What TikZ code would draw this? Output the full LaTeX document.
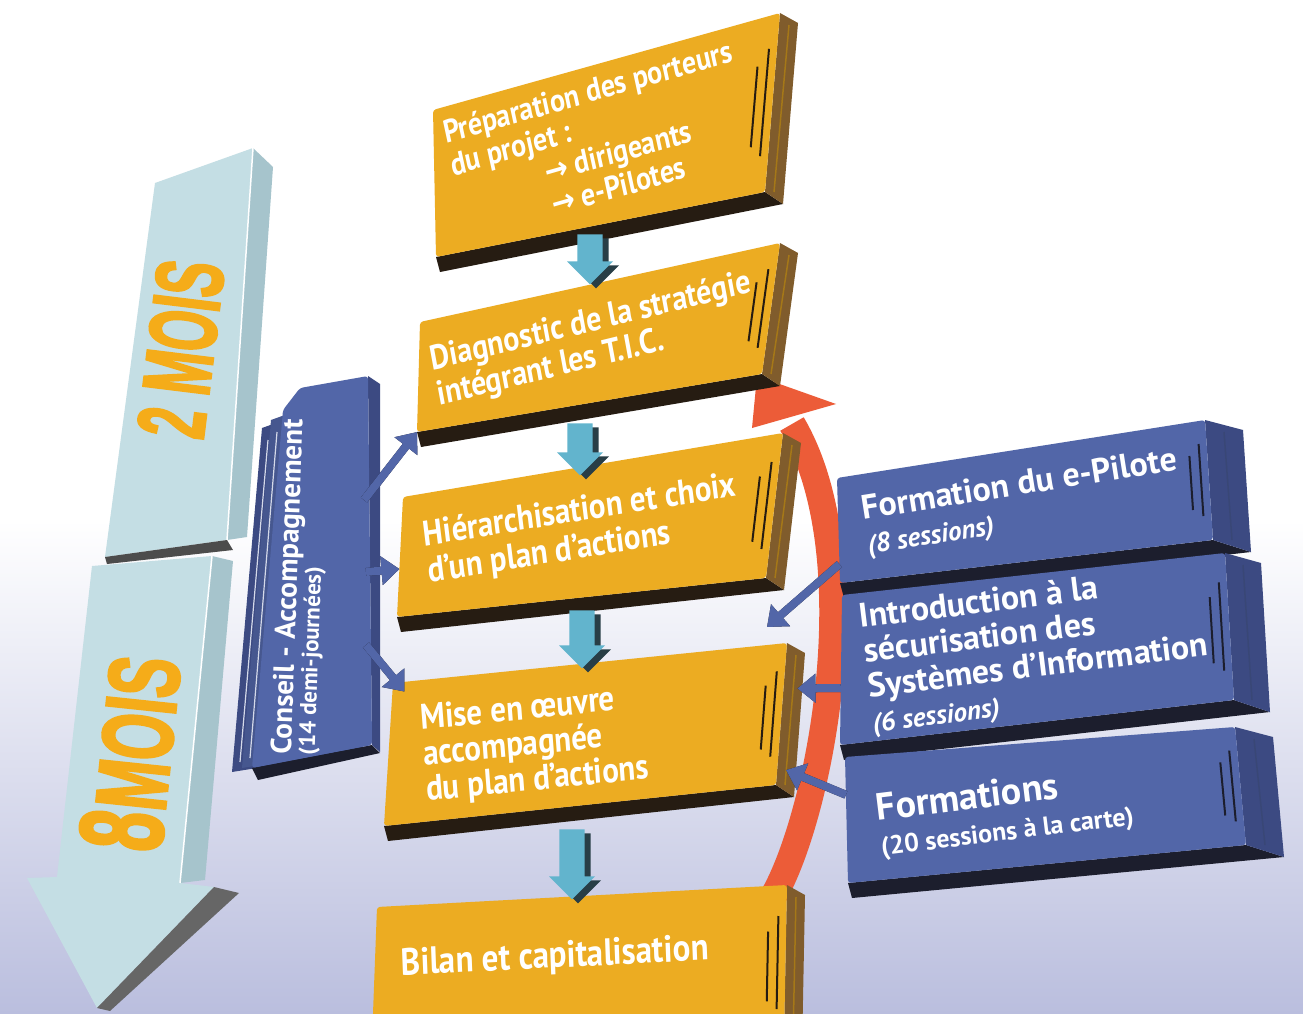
\documentclass[tikz,border=0pt]{standalone}
\usepackage{fontspec}
\setmainfont{PT Sans}
\newfontfamily\symfont{DejaVu Sans}
\newfontfamily\condfont[BoldFont={Liberation Sans Bold},BoldFeatures={FakeBold=3}]{Liberation Sans}
\usetikzlibrary{calc,shapes.arrows,arrows.meta}
\definecolor{ocre}{RGB}{236,172,34}
\definecolor{ocreside}{RGB}{128,92,44}
\definecolor{ocredark}{RGB}{38,28,18}
\definecolor{bleu}{RGB}{82,102,168}
\definecolor{bleuside}{RGB}{60,74,130}
\definecolor{bleudark}{RGB}{28,30,45}
\definecolor{ciel}{RGB}{196,222,228}
\definecolor{cielside}{RGB}{166,196,204}
\definecolor{turq}{RGB}{98,180,205}
\definecolor{turqdark}{RGB}{40,62,70}
\definecolor{rouge}{RGB}{236,92,56}
\definecolor{mois}{RGB}{245,172,25}
\definecolor{fond}{RGB}{186,190,222}
\newcommand\plaque[9]{%
  \coordinate (#1a) at (#2); \coordinate (#1b) at (#3);
  \coordinate (#1c) at (#4); \coordinate (#1d) at (#5);
  \fill[#8] (#1d) -- (#1c) -- ($(#1c)+(#9,12)$) -- ($(#1d)+(4,15)$) -- cycle;
  \fill[#7] (#1b) -- ($(#1b)+(#9,10)$) -- ($(#1c)+(#9,12)$) -- (#1c) -- cycle;
  \draw[#6!70!black, line width=1.5pt] ($(#1b)+({0.5*#9},12)$) -- ($(#1c)+({0.5*#9},0)$);
  \fill[#6, rounded corners=3pt] (#1a) -- (#1b) -- (#1c) -- (#1d) -- cycle;
  \draw[#8, line width=2pt] ($(#1b)!0.2!(#1c)+(-8,0)$) -- ($(#1b)!0.8!(#1c)+(-8,0)$);
  \draw[#8, line width=2pt] ($(#1b)!0.3!(#1c)+(-18,0)$) -- ($(#1b)!0.75!(#1c)+(-18,0)$);
}
\begin{document}
\begin{tikzpicture}[x=1pt,y=-1pt,
  otext/.style={text=white,align=left,inner sep=0pt,yscale=1.15},
  btext/.style={text=white,font=\bfseries\fontsize{34}{35}\selectfont,align=left,inner sep=0pt},
  tarrow/.style={single arrow,rotate=-90,fill=turq,inner xsep=0pt,inner ysep=12pt,minimum width=46pt,single arrow head extend=10pt},
  barrow/.style={draw=bleu,line width=8pt,-{Triangle[length=18pt,width=28pt]}},
  bshadow/.style={barrow,draw=bleudark,shift={(3,5)}},
  moistext/.style={text=mois,font=\condfont\bfseries,inner sep=0pt}]
\useasboundingbox (0,0) rectangle (1303,1014);
\fill[white] (0,0) rectangle (1303,520);
\shade[top color=white,bottom color=fond] (0,520) rectangle (1303,1014);

\fill[ciel] (155,183) -- (253,148) -- (227,540) -- (105,557) -- cycle;
\fill[cielside] (253,148) -- (273,167) -- (247,537) -- (227,540) -- cycle;
\draw[white, line width=1.5pt] (253,148) -- (227,540);
\fill[black!70] (105,557) -- (227,540) -- (233,550) -- (107,564) -- cycle;
\fill[ciel] (92,566) -- (212,556) -- (180,883) -- (214,887) -- (97,1008) -- (27,878) -- (57,877) -- cycle;
\fill[cielside] (212,556) -- (233,561) -- (205,880) -- (180,883) -- cycle;
\draw[white, line width=1.5pt] (212,556) -- (180,883);
\fill[black!60] (214,887) -- (239,893) -- (110,1011) -- (97,1008) -- cycle;
\node[moistext, rotate=83] (deux) at (181,349) {\fontsize{95}{95}\selectfont\scalebox{0.55}[1]{2 MOIS}};
\node[moistext, rotate=84] (huit) at (130,753) {\scalebox{0.6}[1]{\fontsize{118}{118}\selectfont 8\fontsize{100}{100}\selectfont\hspace{3pt}MOIS}};

\draw[rouge, line width=27pt] (768,905) .. controls (818,830) and (872,560) .. (792,424);
\fill[rouge] (757,376) -- (836,404) -- (752,428) -- cycle;

\fill[bleuside] (262,428) -- (352,396) -- (356,752) -- (232,772) -- cycle;
\draw[white!75!bleu, line width=1.2pt] (268,440) -- (240,762);
\fill[bleu!85!black] (271,420) -- (360,388) -- (363,748) -- (242,768) -- cycle;
\draw[white!75!bleu, line width=1.2pt] (277,432) -- (250,758);
\fill[bleudark] (252,768) -- (372,745) -- (380,753) -- (258,780) -- cycle;
\fill[bleuside] (368,376) -- (380,384) -- (380,752) -- (372,745) -- cycle;
\fill[bleu, rounded corners=3pt] (283,410) -- (300,388) -- (368,376) -- (372,745) -- (252,768) -- cycle;
\node[text=white, align=left, inner sep=0pt, rotate=88, anchor=north west, font=\bfseries] (conseil) at (270,754) {\fontsize{29}{30}\selectfont Conseil - Accompagnement\\\fontsize{23}{26}\selectfont(14 demi-journées)};
\coordinate (k1) at (364,500);
\coordinate (k2) at (366,572);
\coordinate (k3) at (366,645);

\plaque{prep}{433,110}{780,13}{765,192}{436,257}{ocre}{ocreside}{ocredark}{18}
\node[otext, rotate=14, font=\bfseries\fontsize{28}{29}\selectfont] (prep) at (598,140) {Préparation des porteurs\\du projet :\\\hspace{3.2em}{\symfont→} dirigeants\\\hspace{3.2em}{\symfont→} e-Pilotes};
\plaque{diag}{420,322}{780,243}{762,374}{417,432}{ocre}{ocreside}{ocredark}{18}
\node[otext, rotate=12, font=\bfseries\fontsize{30}{31}\selectfont] (diag) at (594,340) {Diagnostic de la stratégie\\intégrant les T.I.C.};
\plaque{hier}{403,497}{783,433}{766,578}{397,617}{ocre}{ocreside}{ocredark}{18}
\node[otext, rotate=8, font=\bfseries\fontsize{31}{32}\selectfont] (hier) at (582,530) {Hiérarchisation et choix\\d'un plan d'actions};
\plaque{mise}{393,683}{787,643}{776,785}{384,826}{ocre}{ocreside}{ocredark}{18}
\node[otext, rotate=5, font=\bfseries\fontsize{31}{31}\selectfont] (mise) at (535,745) {Mise en œuvre\\accompagnée\\du plan d'actions};
\plaque{bilan}{377,907}{787,885}{784,1040}{372,1040}{ocre}{ocreside}{ocredark}{18}
\node[otext, rotate=2.5, font=\bfseries\fontsize{33}{34}\selectfont] (bilan) at (555,958) {Bilan et capitalisation};

\node[tarrow, fill=turqdark, minimum height=50pt] (f1s) at (596,257) {};
\node[tarrow, minimum height=50pt] (f1) at (590,253) {};
\node[tarrow, fill=turqdark, minimum height=52pt] (f2s) at (586,447) {};
\node[tarrow, minimum height=52pt] (f2) at (580,443) {};
\node[tarrow, fill=turqdark, minimum height=58pt] (f3s) at (588,637) {};
\node[tarrow, minimum height=58pt] (f3) at (582,633) {};
\node[tarrow, fill=turqdark, minimum height=70pt] (f4s) at (578,862) {};
\node[tarrow, minimum height=70pt] (f4) at (572,858) {};

\plaque{fpil}{837,478}{1205,420}{1213,540}{840,583}{bleu}{bleuside}{bleudark}{38}
\node[btext, rotate=9] (fpil) at (1022,503) {Formation du e-Pilote\\\itshape\fontsize{27}{30}\selectfont(8 sessions)};
\plaque{intro}{842,595}{1225,553}{1234,700}{840,745}{bleu}{bleuside}{bleudark}{36}
\node[btext, rotate=7] (intro) at (1036,650) {Introduction à la\\sécurisation des\\Systèmes d'Information\\\itshape\fontsize{27}{30}\selectfont(6 sessions)};
\plaque{forms}{845,757}{1235,727}{1246,845}{848,883}{bleu}{bleuside}{bleudark}{38}
\node[btext, rotate=7] (forms) at (1005,812) {\fontsize{38}{38}\selectfont Formations\\\fontsize{26}{30}\selectfont(20 sessions à la carte)};

\draw[bshadow] (k1) -- (diagd);
\draw[barrow] (k1) -- (diagd);
\draw[bshadow] (k2) -- ($(hiera)!0.6!(hierd)$);
\draw[barrow] (k2) -- ($(hiera)!0.6!(hierd)$);
\draw[bshadow] (k3) -- ($(misea)!0.06!(mised)+(12,0)$);
\draw[barrow] (k3) -- ($(misea)!0.06!(mised)+(12,0)$);
\draw[bshadow] ($(fpila)!0.82!(fpild)$) -- ($(miseb)+(-20,-16)$);
\draw[barrow] ($(fpila)!0.82!(fpild)$) -- ($(miseb)+(-20,-16)$);
\draw[bshadow] ($(introa)!0.62!(introd)$) -- ($(miseb)!0.32!(misec)+(14,0)$);
\draw[barrow] ($(introa)!0.62!(introd)$) -- ($(miseb)!0.32!(misec)+(14,0)$);
\draw[bshadow] ($(formsa)!0.3!(formsd)$) -- ($(misec)+(10,-15)$);
\draw[barrow] ($(formsa)!0.3!(formsd)$) -- ($(misec)+(10,-15)$);
\end{tikzpicture}
\end{document}
